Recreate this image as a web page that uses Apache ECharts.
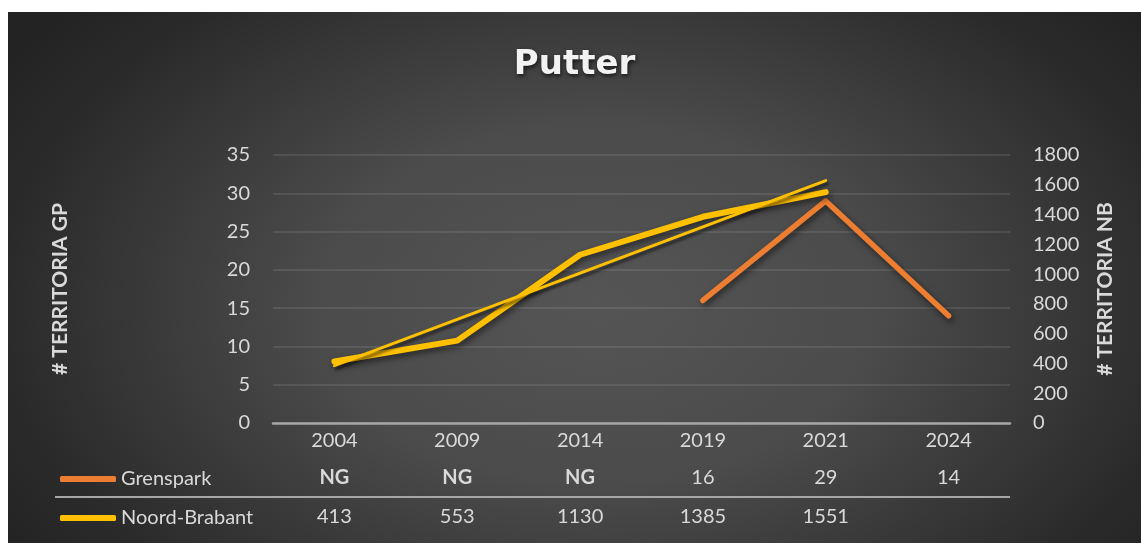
<!DOCTYPE html>
<html>
<head>
<meta charset="utf-8">
<script src="https://cdn.jsdelivr.net/npm/echarts@6/dist/echarts.min.js"></script>
<style>
  html, body { margin: 0; padding: 0; background: #fff; }
  #chart {
    position: absolute; left: 8px; top: 12px; width: 1133px; height: 531px;
    background: radial-gradient(ellipse 62% 85% at 52% 55%, #555555 0%, #4b4b4b 40%, #2a2a2a 85%, #232323 100%);
  }
</style>
</head>
<body>
<div id="chart"></div>
<script>
const years = ['2004', '2009', '2014', '2019', '2021', '2024'];
const grenspark = [null, null, null, 16, 29, 14];
const noordBrabant = [413, 553, 1130, 1385, 1551, null];
// Excel linear trendline of Noord-Brabant, endpoints
const trendNB = [385, null, null, null, 1628, null];

const gpTicks = { min: 0, max: 35, interval: 5 };
const nbTicks = { min: 0, max: 1800, interval: 200 };

const labelColor = '#d9d9d9';
const font = 'Lato, "Open Sans", sans-serif';

const tableText = (arr, i) => {
  const v = arr[i];
  if (v === null) return arr === grenspark ? '{b|NG}' : '';
  return String(v);
};

const tableAxis = (arr, offset) => ({
  type: 'category',
  data: years,
  position: 'bottom',
  offset: offset,
  gridIndex: 0,
  axisLine: { show: false },
  axisTick: { show: false },
  splitLine: { show: false },
  axisLabel: {
    interval: 0,
    margin: 7,
    color: labelColor,
    fontFamily: font,
    fontSize: 20,
    formatter: (v, i) => tableText(arr, i),
    rich: { b: { fontWeight: 'bold', fontSize: 20, fontFamily: font, color: labelColor } }
  }
});

const lineShadow = {
  shadowColor: 'rgba(0,0,0,0.55)',
  shadowBlur: 6,
  shadowOffsetX: 2,
  shadowOffsetY: 3
};

const chart = echarts.init(document.getElementById('chart'));
chart.setOption({
  backgroundColor: 'transparent',
  animation: false,
  title: {
    text: 'Putter',
    left: 'center',
    top: 31,
    textStyle: {
      color: '#f2f2f2',
      fontFamily: '"DejaVu Sans", sans-serif',
      fontWeight: 'bold',
      fontSize: 34,
      textShadowColor: 'rgba(0,0,0,0.7)',
      textShadowBlur: 4,
      textShadowOffsetX: 1,
      textShadowOffsetY: 2
    }
  },
  legend: {
    orient: 'vertical',
    left: 47,
    top: 452,
    itemGap: 19,
    itemWidth: 56,
    itemHeight: 6,
    icon: 'roundRect',
    data: ['Grenspark', 'Noord-Brabant'],
    textStyle: { color: labelColor, fontFamily: font, fontSize: 20, lineHeight: 20 }
  },
  grid: { left: 265, right: 131, top: 143, bottom: 120 },
  xAxis: [
    {
      type: 'category',
      data: years,
      boundaryGap: true,
      axisLine: { lineStyle: { color: '#a6a6a6', width: 2.5 } },
      axisTick: { show: false },
      axisLabel: { color: labelColor, fontFamily: font, fontSize: 20, margin: 8 }
    },
    tableAxis(grenspark, 38),
    tableAxis(noordBrabant, 77)
  ],
  yAxis: [
    {
      type: 'value',
      ...gpTicks,
      name: '# TERRITORIA GP',
      nameLocation: 'middle',
      nameRotate: 90,
      nameGap: 202,
      nameTextStyle: { color: labelColor, fontFamily: font, fontSize: 21, fontWeight: 'bold' },
      axisLine: { show: false },
      axisTick: { show: false },
      axisLabel: { color: labelColor, fontFamily: font, fontSize: 20, margin: 23 },
      splitLine: { lineStyle: { color: 'rgba(255,255,255,0.13)', width: 1.5 } }
    },
    {
      type: 'value',
      ...nbTicks,
      position: 'right',
      name: '# TERRITORIA NB',
      nameLocation: 'middle',
      nameRotate: 90,
      nameGap: 85,
      nameTextStyle: { color: labelColor, fontFamily: font, fontSize: 21, fontWeight: 'bold' },
      axisLine: { show: false },
      axisTick: { show: false },
      axisLabel: { color: labelColor, fontFamily: font, fontSize: 20, margin: 23, formatter: v => String(v) },
      splitLine: { show: false }
    }
  ],
  graphic: [
    {
      type: 'line',
      silent: true,
      shape: { x1: 47, y1: 485, x2: 1002, y2: 485 },
      style: { stroke: '#a6a6a6', lineWidth: 2 }
    }
  ],
  series: [
    {
      name: 'Grenspark',
      type: 'line',
      yAxisIndex: 0,
      data: grenspark,
      showSymbol: false,
      color: '#ED7D31',
      lineStyle: { width: 5.5, cap: 'round', join: 'round', ...lineShadow }
    },
    {
      name: 'Noord-Brabant',
      type: 'line',
      yAxisIndex: 1,
      data: noordBrabant,
      showSymbol: false,
      color: '#FFC000',
      lineStyle: { width: 6, cap: 'round', join: 'round', ...lineShadow }
    },
    {
      name: 'Trend NB',
      type: 'line',
      yAxisIndex: 1,
      data: trendNB,
      connectNulls: true,
      showSymbol: false,
      color: '#FFC000',
      lineStyle: { width: 3, cap: 'round', ...lineShadow, shadowBlur: 3 }
    }
  ]
});
</script>
</body>
</html>
